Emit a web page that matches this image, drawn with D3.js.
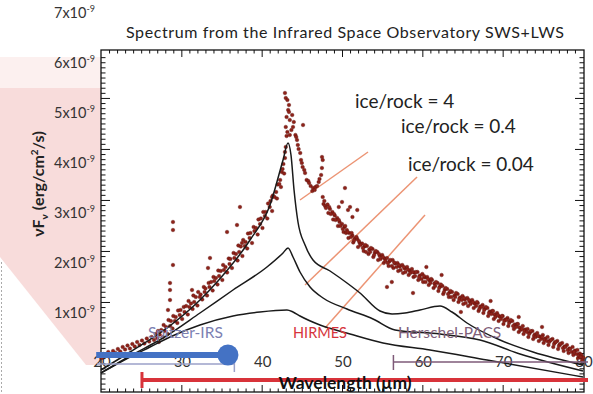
<!DOCTYPE html>
<html>
<head>
<meta charset="utf-8">
<script src="https://cdn.jsdelivr.net/npm/d3@7"></script>
<style>
  body { margin: 0; background: #fff; }
  svg { display: block; font-family: Lato, "Open Sans", sans-serif; }
</style>
</head>
<body>
<svg id="chart" width="593" height="394"></svg>
<script>
// ---- data ---------------------------------------------------------------
const title = "Spectrum from the Infrared Space Observatory SWS+LWS";
const xTickLabels = [20, 30, 40, 50, 60, 70, 80];          // wavelength (µm)
const yTickLabels = [1, 2, 3, 4, 5, 6, 7];                 // × 10^-9 erg/cm²/s
const modelLabels = ["ice/rock = 4", "ice/rock = 0.4", "ice/rock = 0.04"];

// model SEDs: [wavelength µm, νFν in 1e-9 erg/cm²/s]
const modelIceRock4 = [
  [20,-0.16],[23.61,0.20],[28.22,0.68],[32.32,1.24],[34.44,1.60],[38.55,2.44],
  [41.04,3.14],[42.66,4.04],[43.28,4.38],[43.65,4.14],[44.03,3.44],[44.52,2.80],
  [45.40,2.34],[46.39,2.04],[48.51,1.82],[50.62,1.58],[52.24,1.38],[54.73,1.02],
  [56.23,0.96],[57.84,0.98],[59.71,1.04],[62.20,1.12],[63.69,1.00],[65.56,0.78],
  [69.67,0.44],[73.78,0.20],[80,-0.06]
];
const modelIceRock04 = [
  [20,-0.22],[23.61,0.12],[27.72,0.48],[32.32,0.98],[36.43,1.44],[40.66,1.90],
  [42.66,2.18],[43.28,2.28],[43.90,2.10],[44.77,1.80],[46.02,1.50],[47.64,1.28],
  [50.62,1.06],[53.86,0.86],[56.60,0.64],[62.20,0.56],[67.18,0.44],[72.16,0.16],
  [80,-0.18]
];
const modelIceRock004 = [
  [20,-0.22],[23.61,0.10],[26.10,0.30],[28.59,0.50],[32.32,0.74],[36.43,0.92],
  [39.79,1.00],[43.15,1.04],[43.90,1.00],[44.77,0.92],[47.26,0.74],[51.0,0.56],
  [55.10,0.38],[60.96,0.24],[68.05,0.04],[80,-0.30]
];

// ISO SWS+LWS spectrum samples: [wavelength µm, νFν in 1e-9 erg/cm²/s]
const isoSpectrum = [
  [20.1,0.08],[20.3,0.16],[20.6,0.12],[20.9,0.2],[21.2,0.14],[21.5,0.22],[21.8,0.18],
  [22.1,0.26],[22.4,0.21],[22.7,0.3],[23.0,0.25],[23.3,0.33],[23.6,0.27],[23.9,0.36],
  [24.2,0.31],[24.5,0.4],[24.8,0.34],[25.1,0.43],[25.4,0.37],[25.7,0.47],[26.0,0.41],
  [26.3,0.5],[26.6,0.44],[26.8,0.56],
  [27.0,0.48],[27.1,0.62],[27.2,0.4],[27.5,0.64],[27.7,0.5],[27.8,0.74],
  [28.1,0.7],[28.3,0.56],[28.4,0.84],[28.7,0.82],[28.9,0.67],[29.0,0.92],
  [29.3,0.9],[29.5,0.78],[29.6,1.03],[29.9,1.04],[30.1,0.86],[30.3,1.1],
  [30.6,1.12],[30.8,0.95],[30.9,1.22],[31.2,1.17],[31.4,1.06],[31.5,1.33],
  [31.8,1.3],[32.0,1.13],[32.1,1.4],[32.4,1.35],[32.6,1.25],[32.8,1.5],
  [33.0,1.47],[33.2,1.33],[33.4,1.58],[33.7,1.6],[33.9,1.43],[34.0,1.7],
  [34.3,1.68],[34.5,1.55],[34.6,1.83],[34.9,1.82],[35.1,1.64],[35.2,1.94],
  [35.5,1.9],[35.7,1.79],[35.9,2.07],[36.1,2.06],[36.3,1.88],[36.5,2.18],
  [36.8,2.16],[37.0,2.03],[37.1,2.33],[37.4,2.31],[37.6,2.12],[37.7,2.44],
  [38.0,2.4],[38.2,2.27],[38.3,2.57],[38.6,2.58],[38.8,2.38],[39.0,2.7],
  [39.3,2.68],[39.5,2.55],[39.6,2.85],[39.9,2.87],[40.1,2.68],[40.2,3.0],
  [40.5,3.0],[40.7,2.87],[40.8,3.17],[41.1,3.22],[41.3,3.02],[41.4,3.33],
  [41.8,3.4],[41.9,3.27],[42.0,3.55],[42.3,3.64],[42.4,3.5],[42.5,3.8],
  [42.7,3.96],[42.8,3.77],[42.9,4.08],[43.0,4.3],[43.1,4.52],[43.0,4.7],
  [27.3,0.55],[27.9,0.62],[28.6,0.72],[29.2,0.82],[29.8,0.94],[30.4,1.0],
  [31.0,1.1],[31.6,1.2],[32.3,1.3],[32.9,1.4],[33.5,1.5],[34.1,1.62],
  [34.7,1.72],[35.3,1.84],[36.0,1.96],[36.6,2.08],[37.2,2.2],[37.9,2.32],
  [38.5,2.48],[39.1,2.62],[39.8,2.76],[40.4,2.92],[41.0,3.1],[41.6,3.3],
  [42.2,3.56],[42.6,3.86],[42.9,4.2],[43.1,4.9],[43.2,4.6],
  [42.9,5.38],[43.0,5.28],[43.2,5.24],[43.3,5.04],[43.4,5.14],[43.4,5.0],
  [43.5,4.84],[43.5,4.54],[43.7,4.64],[43.8,4.94],[43.9,4.7],[44.0,4.8],
  [44.2,4.54],[44.3,4.5],[44.4,4.44],[44.5,4.34],[44.6,4.26],[44.8,4.18],
  [44.9,4.04],[45.0,3.98],[45.1,3.9],[45.3,3.84],[45.4,3.78],[45.6,3.64],
  [45.8,3.62],[45.9,3.58],[46.1,3.52],[46.3,3.42],[46.4,3.48],[46.6,3.44],
  [46.7,3.5],[46.9,3.52],[47.1,3.6],[47.2,3.66],[47.4,3.74],[47.5,3.88],[47.6,4.04],
  [47.6,3.3],[47.7,3.16],[47.9,3.12],[48.2,3.15],[48.3,2.98],[48.5,3.06],
  [48.8,3.0],[48.9,2.85],[49.1,2.93],[49.4,2.88],[49.5,2.72],[49.7,2.8],
  [50.0,2.76],[50.2,2.6],[50.3,2.7],[50.6,2.64],[50.8,2.48],[50.9,2.58],
  [51.3,2.53],[51.4,2.39],[51.6,2.47],[51.9,2.46],[52.0,2.3],[52.2,2.38],
  [52.5,2.37],[52.7,2.22],[52.8,2.31],[53.1,2.32],[53.3,2.16],[53.4,2.25],
  [53.8,2.26],[53.9,2.1],[54.1,2.19],[54.4,2.2],[54.5,2.04],[54.7,2.12],
  [55.0,2.14],[55.2,1.98],[55.3,2.07],[55.6,2.08],[55.8,1.92],[55.9,2.01],
  [56.3,2.04],[56.4,1.88],[56.6,1.97],[56.9,1.98],[57.0,1.82],[57.2,1.91],
  [57.5,1.94],[57.6,1.78],[57.8,1.87],[58.1,1.9],[58.3,1.74],[58.4,1.83],
  [58.7,1.86],[58.9,1.7],[59.0,1.79],[59.4,1.8],[59.5,1.64],[59.7,1.73],
  [60.0,1.76],[60.1,1.6],[60.3,1.69],[60.6,1.7],[60.8,1.54],[60.9,1.63],
  [61.2,1.64],[61.4,1.48],[61.5,1.57],[61.9,1.58],[62.0,1.42],[62.2,1.51],
  [62.5,1.52],[62.6,1.36],[62.8,1.45],[63.1,1.46],[63.3,1.3],[63.4,1.39],
  [63.7,1.4],[63.9,1.24],[64.0,1.33],[64.4,1.36],[64.5,1.2],[64.7,1.29],
  [65.0,1.32],[65.1,1.16],[65.3,1.25],[65.6,1.28],[65.7,1.12],[65.9,1.21],
  [66.2,1.24],[66.4,1.08],[66.5,1.17],[66.9,1.18],[67.0,1.02],[67.2,1.11],
  [67.5,1.14],[67.6,0.98],[67.8,1.07],[68.1,1.08],[68.2,0.92],[68.4,1.01],
  [68.7,1.02],[68.9,0.86],[69.0,0.95],[69.3,0.98],[69.5,0.82],[69.6,0.91],
  [70.0,0.92],[70.1,0.76],[70.3,0.85],[70.6,0.88],[70.7,0.72],[70.9,0.81],
  [71.2,0.82],[71.4,0.66],[71.5,0.75],[71.8,0.76],[72.0,0.6],[72.1,0.69],
  [72.5,0.72],[72.6,0.56],[72.8,0.65],[73.1,0.66],[73.2,0.5],[73.4,0.59],
  [73.7,0.62],[73.8,0.46],[74.0,0.55],[74.3,0.58],[74.5,0.42],[74.6,0.51],
  [75.0,0.54],[75.1,0.38],[75.3,0.47],[75.6,0.5],[75.7,0.34],[75.9,0.43],
  [76.2,0.46],[76.3,0.3],[76.5,0.39],[76.8,0.42],[76.9,0.26],[77.1,0.35],
  [77.4,0.38],[77.6,0.22],[77.7,0.31],[78.0,0.34],[78.2,0.18],[78.3,0.27],
  [78.7,0.3],[78.8,0.14],[79.0,0.23],[79.3,0.24],[79.4,0.08],[79.6,0.17],
  [79.8,0.14],[79.9,0.04],[80.0,0.09],
  [47.8,3.22],[48.0,3.08],[48.4,3.1],[48.6,2.96],[49.0,2.96],[49.2,2.84],
  [49.6,2.84],[49.8,2.72],[50.1,2.66],[50.4,2.72],[50.5,2.58],[50.7,2.6],
  [51.1,2.5],[51.2,2.58],[51.5,2.43],[51.8,2.5],[52.1,2.42],[52.3,2.34],
  [52.6,2.28],[52.9,2.34],[53.0,2.2],[53.5,2.2],[53.6,2.28],[54.0,2.14],
  [54.2,2.22],[54.6,2.16],[54.8,2.06],[55.1,2.1],[55.4,2.02],[55.7,1.98],
  [56.0,2.04],[56.2,1.92],[56.5,1.99],[56.8,1.9],[57.1,1.94],[57.3,1.84],
  [57.7,1.9],[57.9,1.8],[58.2,1.85],[58.5,1.78],[58.8,1.8],[59.1,1.72],
  [59.2,1.8],[59.6,1.7],[59.9,1.66],[60.2,1.72],[60.4,1.6],[60.7,1.66],
  [61.0,1.58],[61.1,1.66],[61.6,1.52],[61.7,1.6],[62.1,1.48],[62.3,1.55],
  [62.7,1.4],[62.9,1.48],[63.2,1.36],[63.5,1.42],[63.6,1.3],[64.1,1.3],
  [64.2,1.38],[64.6,1.26],[64.9,1.24],[65.2,1.28],[65.4,1.18],[65.8,1.24],
  [66.0,1.16],[66.3,1.2],[66.7,1.12],[66.8,1.2],[67.1,1.06],[67.4,1.1],
  [67.7,1.04],[67.9,1.1],[68.3,0.98],[68.6,0.96],[68.8,1.02],[69.1,0.9],
  [69.4,0.94],[69.8,0.86],[69.9,0.92],[70.2,0.82],[70.5,0.84],[70.8,0.78],
  [71.0,0.84],[71.3,0.72],[71.7,0.7],[71.9,0.76],[72.2,0.64],[72.4,0.66],
  [72.7,0.62],[73.0,0.6],[73.3,0.56],[73.5,0.62],[73.9,0.52],[74.1,0.5],
  [74.4,0.52],[74.8,0.46],[74.9,0.5],[75.2,0.44],[75.5,0.42],[75.8,0.4],
  [76.0,0.44],[76.4,0.36],[76.6,0.4],[77.0,0.32],[77.2,0.36],[77.5,0.28],
  [77.8,0.3],[78.1,0.24],[78.4,0.26],[78.6,0.2],[78.9,0.2],[79.2,0.16],
  [79.5,0.12],[79.7,0.1],
  // scattered samples off the main trend
  [28.96,2.80],[28.96,2.64],[28.96,1.94],[28.59,1.58],[28.59,1.44],[28.59,1.24],
  [28.34,1.04],[37.30,3.10],[36.93,2.74],[35.69,2.60],[37.55,2.38],[33.57,2.08],
  [33.32,1.88],[31.33,1.44],[41.29,3.30],[45.15,4.74],[47.51,4.10],[50.37,3.48],
  [50.0,3.20],[50.75,3.04],[49.6,3.1],[51.3,2.9],[51.0,3.1],[51.9,3.04],
  [55.6,1.5],[58.84,1.38],[56.2,1.6],[62.4,1.74],[64.8,1.0],[72.0,0.9],
  [74.9,0.7],[60.5,1.9],[68.5,1.22]
];

// pointer lines from the model labels down to the curves: [[λ, f], [λ, f]]
const pointerLines = [
  [[44.77,3.24],[53.24,4.20]],
  [[45.40,1.54],[59.34,3.70]],
  [[47.89,0.68],[60.33,2.94]]
];

// instrument coverage (µm)
const spitzerRange = [20, 36.6];
const hirmesRange = [25.1, 122];
const pacsRange = [56.4, 210];
const markerRange = [19.4, 35.8];

// ---- scales -------------------------------------------------------------
const svg = d3.select("#chart");
const x = d3.scaleLinear().domain([20, 80]).range([101, 583]);
const y = d3.scaleLinear().domain([0, 7]).range([362, 12]);
// tick marks drawn along the plot frame
const frameY = d3.scaleLinear().domain([-0.765, 5.94]).range([392, 50]);
const frame = { l: 101, t: 50, r: 584, b: 392 };

svg.append("defs").append("clipPath").attr("id", "clip")
  .append("rect").attr("x", 0).attr("y", 0).attr("width", 588).attr("height", 394);

// ---- pink backdrop on the left ------------------------------------------
svg.append("rect").attr("x", 0).attr("y", 57).attr("width", 101).attr("height", 31)
  .attr("fill", "#fcf0ef");
svg.append("path").attr("d", "M0,88H101V365H86L0,257Z").attr("fill", "#f8dcdb");
svg.append("line").attr("x1", 1.5).attr("x2", 1.5).attr("y1", 262).attr("y2", 394)
  .attr("stroke", "#aaa").attr("stroke-dasharray", "2,2");

// ---- frame --------------------------------------------------------------
svg.append("rect").attr("x", frame.l).attr("y", frame.t)
  .attr("width", frame.r - frame.l).attr("height", frame.b - frame.t)
  .attr("fill", "#fff").attr("stroke", "#111").attr("stroke-width", 1.3);

function frameTicks(axis, vals, size, tx, ty) {
  const g = svg.append("g").attr("transform", `translate(${tx},${ty})`)
    .call(axis.tickValues(vals).tickSize(size).tickFormat(""));
  g.select(".domain").remove();
  g.selectAll("line").attr("stroke", "#111").attr("stroke-width", 1);
}
const xMajor = d3.range(30, 80, 10);
const xMinor = d3.range(21, 80, 1).filter(v => v % 10 !== 0);
const yMajor = d3.range(0, 6, 1);
const yMinor = d3.range(-7, 59, 1).map(v => v / 10).filter(v => Math.round(v * 10) % 10 !== 0);
frameTicks(d3.axisBottom(x), xMajor, 7, 0, frame.t);
frameTicks(d3.axisBottom(x), xMinor, 3.5, 0, frame.t);
frameTicks(d3.axisTop(x), xMajor, 7, 0, frame.b);
frameTicks(d3.axisTop(x), xMinor, 3.5, 0, frame.b);
frameTicks(d3.axisRight(frameY), yMajor, 9, frame.l, 0);
frameTicks(d3.axisRight(frameY), yMinor, 4.5, frame.l, 0);
frameTicks(d3.axisLeft(frameY), yMajor, 9, frame.r, 0);
frameTicks(d3.axisLeft(frameY), yMinor, 4.5, frame.r, 0);

// ---- tick labels --------------------------------------------------------
const yl = svg.append("g").selectAll("text").data(yTickLabels).join("text")
  .attr("x", 95).attr("y", d => y(d) + 5.5)
  .attr("text-anchor", "end").attr("font-size", 14.5).attr("fill", "#333");
yl.append("tspan").text(d => d + "x10");
yl.append("tspan").attr("dy", -6).attr("font-size", 9).text("-9");

svg.append("g").selectAll("text").data(xTickLabels).join("text")
  .attr("x", d => x(d) + 1).attr("y", 367)
  .attr("text-anchor", "middle").attr("font-size", 15).attr("fill", "#333")
  .text(d => d);

svg.append("text").attr("x", 345).attr("y", 38).attr("text-anchor", "middle")
  .attr("font-size", 16).attr("fill", "#222")
  .attr("textLength", 438).attr("lengthAdjust", "spacing").text(title);

const ylab = svg.append("text")
  .attr("transform", "translate(44,184) rotate(-90)")
  .attr("text-anchor", "middle").attr("font-size", 16).attr("font-weight", 700)
  .attr("fill", "#222");
ylab.append("tspan").text("νF");
ylab.append("tspan").attr("dy", 4).attr("font-size", 10).text("ν");
ylab.append("tspan").attr("dy", -4).text(" (erg/cm");
ylab.append("tspan").attr("dy", -6).attr("font-size", 10).text("2");
ylab.append("tspan").attr("dy", 6).text("/s)");

// ---- pointer lines & spectrum -------------------------------------------
svg.append("g").selectAll("line").data(pointerLines).join("line")
  .attr("x1", d => x(d[0][0])).attr("y1", d => y(d[0][1]))
  .attr("x2", d => x(d[1][0])).attr("y2", d => y(d[1][1]))
  .attr("stroke", "#ec9474").attr("stroke-width", 1.5);

svg.append("g").selectAll("circle").data(isoSpectrum).join("circle")
  .attr("cx", d => x(d[0])).attr("cy", d => y(d[1])).attr("r", 1.8)
  .attr("fill", "#8e2219").attr("stroke", "#5e0f0a").attr("stroke-width", 0.4);

// ---- model curves -------------------------------------------------------
const line = d3.line().x(d => x(d[0])).y(d => y(d[1])).curve(d3.curveMonotoneX);
svg.append("g").selectAll("path")
  .data([modelIceRock4, modelIceRock04, modelIceRock004]).join("path")
  .attr("d", line).attr("fill", "none").attr("stroke", "#1a1a1a").attr("stroke-width", 1.5);

// ---- model labels -------------------------------------------------------
const labelPos = [[355, 108], [401, 133], [408, 171]];
svg.append("g").selectAll("text").data(modelLabels).join("text")
  .attr("x", (d, i) => labelPos[i][0]).attr("y", (d, i) => labelPos[i][1])
  .attr("font-size", 19).attr("fill", "#222").text(d => d);

// ---- instrument coverage bars -------------------------------------------
const bars = svg.append("g").attr("clip-path", "url(#clip)");
// Spitzer-IRS
bars.append("line").attr("x1", x(spitzerRange[0]) - 4).attr("x2", x(spitzerRange[1]))
  .attr("y1", 364).attr("y2", 364).attr("stroke", "#9ba1c9").attr("stroke-width", 1.5);
bars.append("line").attr("x1", x(spitzerRange[1])).attr("x2", x(spitzerRange[1]))
  .attr("y1", 357).attr("y2", 372).attr("stroke", "#9ba1c9").attr("stroke-width", 1.5);
// Herschel-PACS
bars.append("line").attr("x1", x(pacsRange[0])).attr("x2", x(pacsRange[1]))
  .attr("y1", 362).attr("y2", 362).attr("stroke", "#7e5a78").attr("stroke-width", 1.5);
bars.append("line").attr("x1", x(pacsRange[0])).attr("x2", x(pacsRange[0]))
  .attr("y1", 355).attr("y2", 370).attr("stroke", "#7e5a78").attr("stroke-width", 1.5);

svg.append("text").attr("x", 345).attr("y", 389).attr("text-anchor", "middle")
  .attr("font-size", 17.5).attr("font-weight", 700).attr("fill", "#111")
  .text("Wavelength (µm)");

// HIRMES
bars.append("line").attr("x1", x(hirmesRange[0])).attr("x2", x(hirmesRange[1]))
  .attr("y1", 380).attr("y2", 380).attr("stroke", "#d8333a").attr("stroke-width", 4);
bars.append("line").attr("x1", x(hirmesRange[0])).attr("x2", x(hirmesRange[0]))
  .attr("y1", 372).attr("y2", 388).attr("stroke", "#d8333a").attr("stroke-width", 3);

svg.append("text").attr("x", 148).attr("y", 338).attr("font-size", 15.5)
  .attr("fill", "#7c80b2").text("Spitzer-IRS");
svg.append("text").attr("x", 293).attr("y", 338).attr("font-size", 14.5)
  .attr("fill", "#d6343c").text("HIRMES");
svg.append("text").attr("x", 398).attr("y", 338).attr("font-size", 15.5)
  .attr("fill", "#80607a").text("Herschel-PACS");

// marker bar with knob
svg.append("line").attr("x1", x(markerRange[0])).attr("x2", x(markerRange[1]))
  .attr("y1", 355).attr("y2", 355).attr("stroke", "#4472c4").attr("stroke-width", 6);
svg.append("circle").attr("cx", x(markerRange[1])).attr("cy", 355).attr("r", 10.5)
  .attr("fill", "#4472c4");
</script>
</body>
</html>
